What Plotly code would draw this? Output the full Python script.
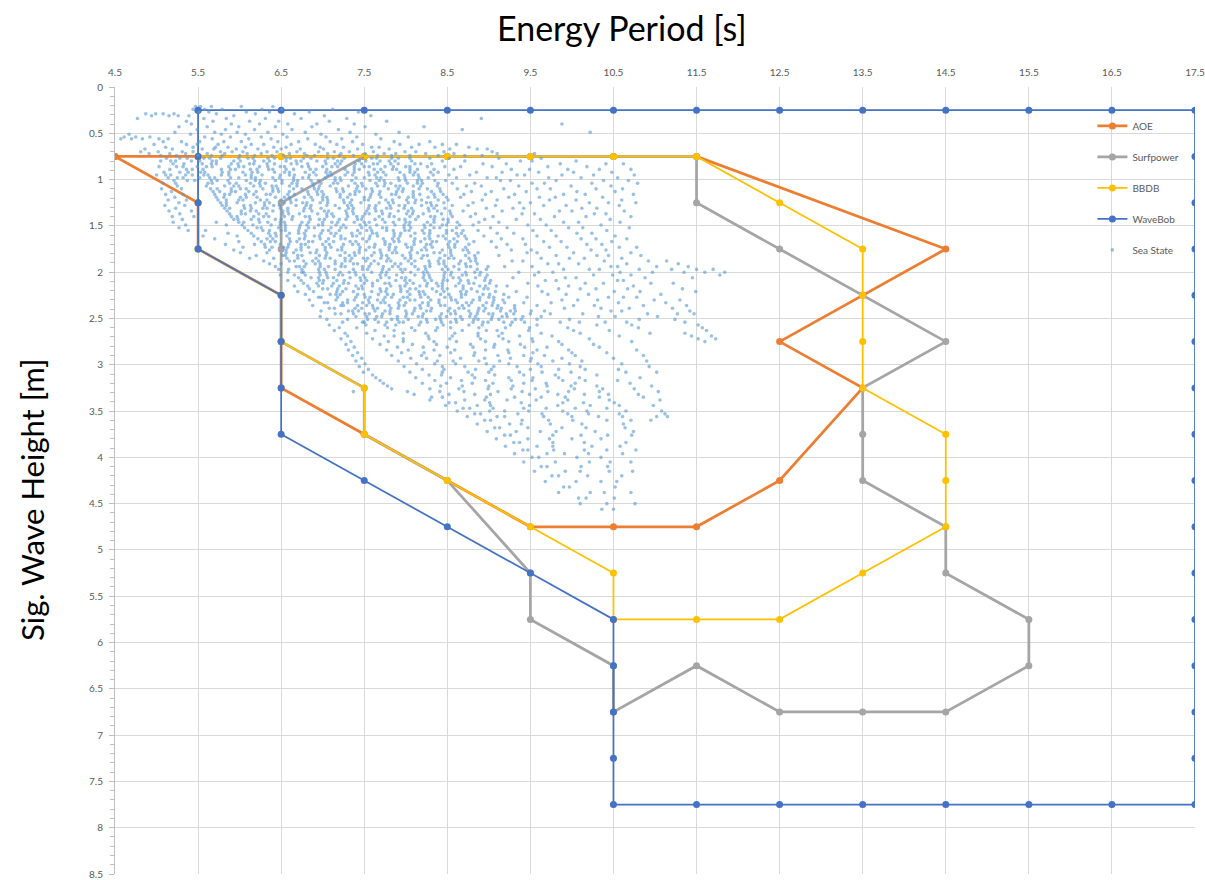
import plotly.graph_objects as go

# ---------------- Data ----------------
x_ticks = [4.5, 5.5, 6.5, 7.5, 8.5, 9.5, 10.5, 11.5, 12.5, 13.5, 14.5, 15.5, 16.5, 17.5]
y_ticks = [0, 0.5, 1, 1.5, 2, 2.5, 3, 3.5, 4, 4.5, 5, 5.5, 6, 6.5, 7, 7.5, 8, 8.5]

aoe_te = [4.5, 5.5, 5.5, 6.5, 6.5, 6.5, 7.5, 8.5, 9.5, 10.5, 11.5, 12.5, 13.5, 12.5, 13.5, 14.5,
          11.5, 10.5, 9.5, 8.5, 7.5, 6.5, 5.5, 4.5]
aoe_hs = [0.75, 1.25, 1.75, 2.25, 2.75, 3.25, 3.75, 4.25, 4.75, 4.75, 4.75, 4.25, 3.25, 2.75, 2.25, 1.75,
          0.75, 0.75, 0.75, 0.75, 0.75, 0.75, 0.75, 0.75]

surf_te = [7.5, 6.5, 6.5, 6.5, 6.5, 7.5, 7.5, 8.5, 9.5, 9.5, 10.5, 10.5, 11.5, 12.5, 13.5, 14.5, 15.5,
           15.5, 14.5, 14.5, 13.5, 13.5, 13.5, 14.5, 13.5, 12.5, 11.5, 11.5, 10.5, 9.5, 8.5, 7.5]
surf_hs = [0.75, 1.25, 1.75, 2.25, 2.75, 3.25, 3.75, 4.25, 5.25, 5.75, 6.25, 6.75, 6.25, 6.75, 6.75, 6.75, 6.25,
           5.75, 5.25, 4.75, 4.25, 3.75, 3.25, 2.75, 2.25, 1.75, 1.25, 0.75, 0.75, 0.75, 0.75, 0.75]

bbdb_te = [5.5, 6.5, 7.5, 8.5, 9.5, 10.5, 11.5, 12.5, 13.5, 13.5, 13.5, 13.5, 14.5, 14.5, 14.5, 13.5,
           12.5, 11.5, 10.5, 10.5, 9.5, 8.5, 7.5, 7.5, 6.5, 6.5, 5.5, 5.5, 5.5]
bbdb_hs = [0.75, 0.75, 0.75, 0.75, 0.75, 0.75, 0.75, 1.25, 1.75, 2.25, 2.75, 3.25, 3.75, 4.25, 4.75, 5.25,
           5.75, 5.75, 5.75, 5.25, 4.75, 4.25, 3.75, 3.25, 2.75, 2.25, 1.75, 1.25, 0.75]

wavebob_te = [5.5, 6.5, 7.5, 8.5, 9.5, 10.5, 11.5, 12.5, 13.5, 14.5, 15.5, 16.5, 17.5,
              17.5, 17.5, 17.5, 17.5, 17.5, 17.5, 17.5, 17.5, 17.5, 17.5, 17.5, 17.5, 17.5, 17.5, 17.5,
              16.5, 15.5, 14.5, 13.5, 12.5, 11.5, 10.5,
              10.5, 10.5, 10.5, 10.5, 9.5, 8.5, 7.5, 6.5, 6.5, 6.5, 6.5, 5.5, 5.5, 5.5, 5.5]
wavebob_hs = [0.25, 0.25, 0.25, 0.25, 0.25, 0.25, 0.25, 0.25, 0.25, 0.25, 0.25, 0.25, 0.25,
              0.75, 1.25, 1.75, 2.25, 2.75, 3.25, 3.75, 4.25, 4.75, 5.25, 5.75, 6.25, 6.75, 7.25, 7.75,
              7.75, 7.75, 7.75, 7.75, 7.75, 7.75, 7.75,
              7.25, 6.75, 6.25, 5.75, 5.25, 4.75, 4.25, 3.75, 3.25, 2.75, 2.25, 1.75, 1.25, 0.75, 0.25]

# Sea states: (Hs, [Te values in that Hs row])
sea_state_rows = [
    (0.21, [5.47, 5.53, 5.66, 6.02, 6.4]),
    (0.24, [5.44, 5.58, 5.79, 6.27, 6.51, 7.12]),
    (0.27, [5.51, 5.63, 6.08, 6.36, 6.84, 7.43]),
    (0.29, [4.87, 4.99, 5.08, 5.21, 5.72, 6.19, 6.66]),
    (0.31, [4.94, 5.15, 5.26, 5.39, 5.93, 7.02, 7.58]),
    (0.34, [4.77, 5.57, 5.84, 6.31, 6.74, 7.29, 8.91]),
    (0.37, [5.36, 5.68, 6.12, 6.47, 7.08, 7.77]),
    (0.40, [5.42, 5.9, 6.24, 6.58, 6.93, 7.38, 9.88]),
    (0.43, [5.27, 5.61, 5.99, 6.43, 6.87, 7.51, 8.22]),
    (0.46, [5.49, 5.83, 6.18, 6.63, 7.19, 8.68]),
    (0.49, [5.22, 5.7, 5.97, 6.34, 6.79, 7.33, 7.92, 10.22]),
    (0.51, [4.67, 5.41, 5.78, 6.07, 6.52, 6.98, 7.64]),
    (0.54, [4.61, 4.75, 4.92, 5.58, 5.89, 6.26, 6.57, 7.04, 7.41, 8.03]),
    (0.56, [4.57, 4.7, 4.83, 5.03, 5.14, 5.67, 6.11, 6.38, 6.82, 7.23, 7.7]),
    (0.59, [5.08, 5.3, 5.52, 5.81, 6.02, 6.46, 6.71, 7.09, 7.36, 7.86, 8.29]),
    (0.62, [4.97, 5.36, 5.49, 5.74, 6.14, 6.29, 6.62, 6.91, 7.17, 7.48, 7.93, 8.16, 8.44, 8.61]),
    (0.65, [5.11, 5.44, 5.71, 5.86, 6.07, 6.41, 6.56, 6.97, 7.25, 7.59, 7.68, 8.07, 8.35, 8.76]),
    (0.67, [4.86, 5.19, 5.55, 5.69, 5.96, 6.22, 6.5, 6.73, 7.01, 7.42, 7.8, 8.53, 8.86, 8.98]),
    (0.70, [4.81, 5.02, 5.31, 5.44, 5.77, 5.91, 6.04, 6.33, 6.45, 6.69, 6.95, 7.14, 7.32, 7.61, 7.99, 8.12,
            8.46, 9.04]),
    (0.72, [4.91, 5.16, 5.35, 5.61, 5.82, 6.09, 6.26, 6.6, 6.78, 7.06, 7.22, 7.51, 7.74, 7.88, 8.24, 8.58,
            9.1, 9.55]),
    (0.74, [5.05, 5.24, 5.5, 5.66, 5.79, 6.0, 6.18, 6.39, 6.53, 6.81, 6.9, 7.2, 7.37, 7.66, 7.83, 8.05,
            8.39, 8.71, 8.92]),
    (0.77, [5.12, 5.28, 5.37, 5.57, 5.64, 5.77, 5.99, 6.1, 6.16, 6.34, 6.42, 6.56, 6.61, 6.77, 6.86, 7.06,
            7.13, 7.26, 7.48, 7.59, 7.65, 7.83, 7.91, 8.05, 8.29, 8.52, 9.12, 9.63]),
    (0.80, [5.05, 5.17, 5.23, 5.42, 5.52, 5.67, 5.72, 5.93, 6.01, 6.18, 6.29, 6.36, 6.56, 6.68, 6.74, 6.93,
            7.03, 7.18, 7.23, 7.44, 7.52, 7.69, 7.8, 7.87, 8.07, 8.44, 8.71, 9.38, 9.52, 10.05]),
    (0.83, [5.2, 5.33, 5.55, 5.66, 5.72, 5.9, 5.98, 6.12, 6.17, 6.33, 6.42, 6.62, 6.69, 6.82, 7.04, 7.15,
            7.21, 7.39, 7.47, 7.61, 7.66, 7.82, 7.91, 8.11, 8.18, 8.31, 8.93, 9.21, 9.86, 10.41, 10.62]),
    (0.86, [5.03, 5.24, 5.32, 5.49, 5.6, 5.67, 5.87, 5.99, 6.05, 6.24, 6.34, 6.49, 6.54, 6.75, 6.83, 7.0,
            7.11, 7.18, 7.38, 7.5, 7.56, 7.75, 7.85, 8.0, 8.05, 8.26, 8.47, 8.66, 9.04, 9.71, 10.18]),
    (0.89, [5.16, 5.36, 5.43, 5.56, 5.78, 5.89, 5.95, 6.13, 6.21, 6.35, 6.4, 6.56, 6.65, 6.85, 6.92, 7.05,
            7.27, 7.38, 7.44, 7.62, 7.7, 7.84, 7.89, 8.05, 8.14, 8.34, 8.58, 9.27, 9.49, 9.95, 10.33, 10.71]),
    (0.92, [5.09, 5.28, 5.38, 5.53, 5.58, 5.79, 5.87, 6.04, 6.15, 6.22, 6.42, 6.54, 6.6, 6.79, 6.89, 7.04,
            7.09, 7.3, 7.38, 7.55, 7.66, 7.73, 7.93, 8.05, 8.11, 8.3, 8.39, 8.85, 9.16, 9.6, 10.02, 10.48]),
    (0.95, [5.0, 5.11, 5.17, 5.35, 5.43, 5.57, 5.62, 5.78, 5.87, 6.07, 6.14, 6.27, 6.49, 6.6, 6.66, 6.84,
            6.92, 7.06, 7.11, 7.27, 7.36, 7.56, 7.63, 7.76, 7.98, 8.09, 8.15, 8.33, 8.52, 8.77, 9.34, 9.43,
            9.88, 10.26, 10.75]),
    (0.98, [5.14, 5.25, 5.32, 5.52, 5.64, 5.7, 5.89, 5.99, 6.14, 6.19, 6.4, 6.48, 6.65, 6.76, 6.83, 7.03,
            7.15, 7.21, 7.4, 7.5, 7.65, 7.7, 7.91, 7.99, 8.16, 8.27, 8.61, 8.98, 9.09, 9.72, 10.11, 10.55]),
    (1.01, [5.21, 5.37, 5.46, 5.66, 5.73, 5.86, 6.08, 6.19, 6.25, 6.43, 6.51, 6.65, 6.7, 6.86, 6.95, 7.15,
            7.22, 7.35, 7.57, 7.68, 7.74, 7.92, 8.0, 8.14, 8.19, 8.35, 8.48, 9.14, 9.26, 9.81, 10.38, 10.68]),
    (1.04, [5.08, 5.23, 5.62, 5.67, 5.88, 5.96, 6.13, 6.24, 6.31, 6.51, 6.63, 6.69, 6.88, 6.98, 7.13, 7.18,
            7.39, 7.47, 7.64, 7.75, 7.82, 8.02, 8.14, 8.2, 8.39, 8.56, 8.83, 9.52, 9.67, 10.24, 10.79]),
    (1.07, [5.25, 5.6, 5.82, 5.93, 5.99, 6.17, 6.25, 6.39, 6.44, 6.6, 6.69, 6.89, 6.96, 7.09, 7.31, 7.42,
            7.48, 7.66, 7.74, 7.88, 7.93, 8.09, 8.18, 8.38, 8.73, 8.91, 9.36, 9.99, 10.47]),
    (1.10, [5.06, 5.3, 5.65, 5.73, 5.9, 6.01, 6.08, 6.28, 6.4, 6.46, 6.65, 6.75, 6.9, 6.95, 7.16, 7.24,
            7.41, 7.52, 7.59, 7.79, 7.91, 7.97, 8.16, 8.26, 8.41, 8.62, 9.18, 9.58, 9.74, 10.29, 10.61]),
    (1.13, [5.18, 5.68, 5.76, 5.9, 5.95, 6.11, 6.2, 6.4, 6.47, 6.6, 6.82, 6.93, 6.99, 7.17, 7.25, 7.39,
            7.44, 7.6, 7.69, 7.89, 7.96, 8.09, 8.31, 8.42, 8.79, 9.03, 9.45, 10.06, 10.52]),
    (1.16, [5.11, 5.32, 5.7, 5.82, 5.88, 6.07, 6.17, 6.32, 6.37, 6.58, 6.66, 6.83, 6.94, 7.01, 7.21, 7.33,
            7.39, 7.58, 7.68, 7.83, 7.88, 8.09, 8.17, 8.34, 8.45, 8.7, 8.96, 9.31, 9.9, 10.16, 10.74]),
    (1.19, [5.22, 5.72, 5.81, 6.01, 6.08, 6.21, 6.43, 6.54, 6.6, 6.78, 6.86, 7.0, 7.05, 7.21, 7.3, 7.5,
            7.57, 7.7, 7.92, 8.03, 8.09, 8.27, 8.35, 8.49, 8.66, 9.24, 9.61, 9.8, 10.37]),
    (1.22, [5.14, 5.36, 5.74, 5.84, 5.99, 6.04, 6.25, 6.33, 6.5, 6.61, 6.68, 6.88, 7.0, 7.06, 7.25, 7.35,
            7.5, 7.55, 7.76, 7.84, 8.01, 8.12, 8.19, 8.39, 8.51, 8.92, 9.1, 9.73, 10.05, 10.6]),
    (1.25, [5.27, 5.77, 5.84, 5.97, 6.19, 6.3, 6.36, 6.54, 6.62, 6.76, 6.81, 6.97, 7.06, 7.26, 7.33, 7.46,
            7.68, 7.79, 7.85, 8.03, 8.11, 8.25, 8.3, 8.46, 8.81, 9.37, 9.5, 10.21, 10.44, 10.77]),
    (1.28, [5.1, 5.34, 5.79, 5.84, 6.05, 6.13, 6.3, 6.41, 6.48, 6.68, 6.8, 6.86, 7.05, 7.15, 7.3, 7.35,
            7.56, 7.64, 7.81, 7.92, 7.99, 8.19, 8.31, 8.37, 8.56, 8.75, 9.08, 9.66, 9.93, 10.57]),
    (1.31, [5.23, 5.82, 5.88, 6.06, 6.14, 6.28, 6.33, 6.49, 6.58, 6.78, 6.85, 6.98, 7.2, 7.31, 7.37, 7.55,
            7.63, 7.77, 7.82, 7.98, 8.07, 8.27, 8.34, 8.47, 8.97, 9.29, 9.42, 10.12, 10.3]),
    (1.34, [5.15, 5.42, 5.85, 6.02, 6.13, 6.2, 6.4, 6.52, 6.58, 6.77, 6.87, 7.02, 7.07, 7.28, 7.36, 7.53,
            7.64, 7.71, 7.91, 8.03, 8.09, 8.28, 8.38, 8.53, 8.69, 9.16, 9.85, 10.0, 10.63]),
    (1.37, [5.28, 5.88, 6.02, 6.07, 6.23, 6.32, 6.52, 6.59, 6.72, 6.94, 7.05, 7.11, 7.29, 7.37, 7.51, 7.56,
            7.72, 7.81, 8.01, 8.08, 8.21, 8.43, 8.54, 8.84, 9.4, 9.55, 10.27, 10.41]),
    (1.40, [5.19, 5.45, 5.9, 5.97, 6.17, 6.29, 6.35, 6.54, 6.64, 6.79, 6.84, 7.05, 7.13, 7.3, 7.41, 7.48,
            7.68, 7.8, 7.86, 8.05, 8.15, 8.3, 8.35, 8.56, 8.78, 9.05, 9.79, 10.17, 10.71]),
    (1.43, [5.31, 5.93, 5.98, 6.14, 6.23, 6.43, 6.5, 6.63, 6.85, 6.96, 7.02, 7.2, 7.28, 7.42, 7.47, 7.63,
            7.72, 7.92, 7.99, 8.12, 8.34, 8.45, 8.51, 8.95, 9.33, 9.62, 10.46]),
    (1.46, [5.2, 5.72, 5.99, 6.05, 6.24, 6.34, 6.49, 6.54, 6.75, 6.83, 7.0, 7.11, 7.18, 7.38, 7.5, 7.56,
            7.75, 7.85, 8.0, 8.05, 8.26, 8.34, 8.51, 8.62, 8.88, 9.12, 9.9, 10.08, 10.58]),
    (1.49, [5.35, 5.84, 6.03, 6.16, 6.38, 6.49, 6.55, 6.73, 6.81, 6.95, 7.0, 7.16, 7.25, 7.45, 7.52, 7.65,
            7.87, 7.98, 8.04, 8.22, 8.3, 8.44, 8.49, 8.65, 8.81, 9.47, 9.69, 10.35]),
    (1.52, [5.27, 6.06, 6.21, 6.26, 6.47, 6.55, 6.72, 6.83, 6.9, 7.1, 7.22, 7.28, 7.47, 7.57, 7.72, 7.77,
            7.98, 8.06, 8.23, 8.34, 8.41, 8.61, 9.02, 9.22, 9.96, 10.13, 10.69]),
    (1.55, [5.38, 5.59, 6.1, 6.28, 6.36, 6.5, 6.55, 6.71, 6.8, 7.0, 7.07, 7.2, 7.42, 7.53, 7.59, 7.77,
            7.85, 7.99, 8.04, 8.2, 8.29, 8.49, 8.56, 8.69, 8.87, 9.53, 9.75, 10.42]),
    (1.58, [5.86, 6.14, 6.35, 6.43, 6.6, 6.71, 6.78, 6.98, 7.1, 7.16, 7.35, 7.45, 7.6, 7.65, 7.86, 7.94,
            8.11, 8.22, 8.29, 8.49, 8.61, 8.67, 9.1, 9.3, 10.06, 10.24]),
    (1.61, [5.56, 5.97, 6.17, 6.37, 6.44, 6.57, 6.79, 6.9, 6.96, 7.14, 7.22, 7.36, 7.41, 7.57, 7.66, 7.86,
            7.93, 8.06, 8.28, 8.39, 8.45, 8.63, 8.71, 8.94, 9.58, 9.81, 10.52]),
    (1.64, [5.7, 6.22, 6.33, 6.4, 6.6, 6.72, 6.78, 6.97, 7.07, 7.22, 7.27, 7.48, 7.56, 7.73, 7.84, 7.91,
            8.11, 8.23, 8.29, 8.48, 8.58, 8.73, 9.15, 9.41, 10.11, 10.29, 10.66]),
    (1.67, [5.99, 6.26, 6.37, 6.43, 6.61, 6.69, 6.83, 6.88, 7.04, 7.13, 7.33, 7.4, 7.53, 7.75, 7.86, 7.92,
            8.1, 8.18, 8.32, 8.37, 8.53, 8.62, 8.82, 9.03, 9.66, 9.87, 10.48]),
    (1.70, [5.83, 6.18, 6.3, 6.49, 6.59, 6.74, 6.79, 7.0, 7.08, 7.25, 7.36, 7.43, 7.63, 7.75, 7.81, 8.0,
            8.1, 8.25, 8.3, 8.51, 8.59, 8.76, 9.22, 9.44, 10.18, 10.36]),
    (1.73, [6.04, 6.31, 6.39, 6.53, 6.58, 6.74, 6.83, 7.03, 7.1, 7.23, 7.45, 7.56, 7.62, 7.8, 7.88, 8.02,
            8.07, 8.23, 8.32, 8.52, 8.59, 8.72, 9.09, 9.73, 9.94, 10.57, 10.78]),
    (1.76, [5.93, 6.36, 6.56, 6.68, 6.74, 6.93, 7.03, 7.18, 7.23, 7.44, 7.52, 7.69, 7.8, 7.87, 8.07, 8.19,
            8.25, 8.44, 8.54, 8.69, 8.74, 9.27, 9.51, 10.23, 10.41]),
    (1.79, [6.01, 6.33, 6.56, 6.65, 6.85, 6.92, 7.05, 7.27, 7.38, 7.44, 7.62, 7.7, 7.84, 7.89, 8.05, 8.14,
            8.34, 8.41, 8.54, 8.76, 8.87, 9.46, 9.58, 10.02, 10.71]),
    (1.82, [6.2, 6.52, 6.55, 6.7, 6.75, 6.96, 7.04, 7.21, 7.32, 7.39, 7.59, 7.71, 7.77, 7.96, 8.06, 8.21,
            8.26, 8.47, 8.55, 8.72, 8.83, 9.12, 9.81, 10.3, 10.44, 10.83]),
    (1.85, [6.12, 6.41, 6.57, 6.7, 6.92, 7.03, 7.09, 7.27, 7.35, 7.49, 7.54, 7.7, 7.79, 7.99, 8.06, 8.19,
            8.41, 8.52, 8.58, 8.76, 8.84, 9.63, 9.97, 10.15, 10.6]),
    (1.88, [6.29, 6.6, 6.66, 6.77, 6.88, 6.95, 7.15, 7.27, 7.33, 7.52, 7.62, 7.77, 7.82, 8.03, 8.11, 8.28,
            8.39, 8.46, 8.66, 8.78, 8.84, 9.28, 9.41, 10.39, 10.92, 11.14]),
    (1.91, [6.36, 6.5, 6.8, 6.91, 6.97, 7.15, 7.23, 7.37, 7.42, 7.58, 7.67, 7.87, 7.94, 8.07, 8.29, 8.4,
            8.46, 8.64, 8.72, 8.86, 9.71, 9.84, 10.08, 10.66, 11.28]),
    (1.94, [6.43, 6.68, 6.72, 6.78, 6.97, 7.07, 7.22, 7.27, 7.48, 7.56, 7.73, 7.84, 7.91, 8.11, 8.23, 8.29,
            8.48, 8.58, 8.73, 8.78, 8.99, 9.19, 9.52, 10.47, 10.55, 11.02, 11.4]),
    (1.97, [6.47, 6.59, 6.75, 6.95, 7.02, 7.15, 7.37, 7.48, 7.54, 7.72, 7.8, 7.94, 7.99, 8.15, 8.24, 8.44,
            8.51, 8.64, 8.86, 8.97, 9.9, 10.21, 10.33, 10.81, 11.2, 11.5, 11.7]),
    (2.00, [6.58, 6.77, 6.75, 6.96, 7.04, 7.21, 7.32, 7.39, 7.59, 7.71, 7.77, 7.96, 8.06, 8.21, 8.26, 8.47,
            8.55, 8.72, 8.83, 8.9, 9.36, 9.6, 9.77, 10.58, 10.97, 11.35, 11.6, 11.84]),
    (2.03, [6.49, 6.66, 6.79, 6.97, 7.05, 7.19, 7.24, 7.4, 7.49, 7.69, 7.76, 7.89, 8.11, 8.22, 8.28, 8.46,
            8.54, 8.68, 8.73, 8.89, 8.98, 9.55, 10.26, 10.49, 10.71, 11.78]),
    (2.06, [6.71, 6.86, 6.95, 7.06, 7.13, 7.33, 7.45, 7.51, 7.7, 7.8, 7.95, 8.0, 8.21, 8.29, 8.46, 8.57,
            8.64, 8.84, 8.96, 9.29, 9.92, 10.05, 10.88, 11.45]),
    (2.09, [6.58, 6.74, 6.96, 7.01, 7.17, 7.26, 7.46, 7.53, 7.66, 7.88, 7.99, 8.05, 8.23, 8.31, 8.45, 8.5,
            8.66, 8.75, 8.95, 9.02, 9.68, 9.81, 10.55, 10.62]),
    (2.12, [6.77, 6.93, 7.0, 7.13, 7.25, 7.31, 7.5, 7.6, 7.75, 7.8, 8.01, 8.09, 8.26, 8.37, 8.44, 8.64,
            8.76, 8.82, 9.01, 9.47, 10.16, 10.38, 10.95, 11.22]),
    (2.15, [6.66, 6.82, 6.95, 7.11, 7.2, 7.4, 7.47, 7.6, 7.82, 7.93, 7.99, 8.17, 8.25, 8.39, 8.44, 8.6,
            8.69, 8.89, 8.96, 9.09, 9.22, 9.59, 9.96, 10.74]),
    (2.18, [6.84, 7.0, 7.06, 7.18, 7.28, 7.43, 7.48, 7.69, 7.77, 7.94, 8.05, 8.12, 8.32, 8.44, 8.5, 8.69,
            8.79, 8.94, 8.99, 9.84, 10.1, 10.29, 10.67, 11.33]),
    (2.21, [6.7, 6.89, 7.17, 7.24, 7.37, 7.59, 7.7, 7.76, 7.94, 8.02, 8.16, 8.21, 8.37, 8.46, 8.66, 8.73,
            8.86, 9.08, 9.33, 9.64, 10.51, 10.82, 11.49]),
    (2.24, [6.79, 7.09, 7.16, 7.21, 7.42, 7.5, 7.67, 7.78, 7.85, 8.05, 8.17, 8.23, 8.42, 8.52, 8.67, 8.72,
            8.93, 9.01, 9.18, 9.71, 9.93, 10.2, 11.07]),
    (2.27, [6.95, 6.98, 7.18, 7.4, 7.51, 7.57, 7.75, 7.83, 7.97, 8.02, 8.18, 8.27, 8.47, 8.54, 8.67, 8.89,
            9.0, 9.06, 9.24, 9.46, 10.44, 10.62, 10.78]),
    (2.30, [6.84, 7.16, 7.3, 7.38, 7.55, 7.66, 7.73, 7.93, 8.05, 8.11, 8.3, 8.4, 8.55, 8.6, 8.81, 8.89,
            9.06, 9.17, 9.88, 10.07, 10.31, 10.99, 11.3]),
    (2.33, [7.02, 7.06, 7.24, 7.3, 7.48, 7.56, 7.7, 7.75, 7.91, 8.0, 8.2, 8.27, 8.4, 8.62, 8.73, 8.79,
            8.97, 9.05, 9.19, 9.42, 9.75, 10.56, 11.13]),
    (2.36, [6.88, 7.22, 7.25, 7.42, 7.53, 7.6, 7.8, 7.92, 7.98, 8.17, 8.27, 8.42, 8.47, 8.68, 8.76, 8.93,
            9.04, 9.11, 9.31, 9.58, 10.02, 10.27, 10.86, 11.38]),
    (2.39, [7.08, 7.14, 7.39, 7.47, 7.61, 7.66, 7.82, 7.91, 8.11, 8.18, 8.31, 8.53, 8.64, 8.7, 8.88, 8.96,
            9.1, 9.15, 9.31, 9.91, 10.35, 10.69, 11.21]),
    (2.42, [6.98, 7.31, 7.36, 7.43, 7.63, 7.75, 7.81, 8.0, 8.1, 8.25, 8.3, 8.51, 8.59, 8.76, 8.87, 8.94,
            9.14, 9.26, 9.32, 9.51, 9.67, 10.47, 10.6, 11.42]),
    (2.45, [7.15, 7.22, 7.37, 7.51, 7.56, 7.72, 7.81, 8.01, 8.08, 8.21, 8.43, 8.54, 8.6, 8.78, 8.86, 9.0,
            9.05, 9.21, 9.3, 9.5, 9.74, 10.13, 10.91, 11.27, 11.47]),
    (2.48, [6.97, 7.4, 7.53, 7.65, 7.71, 7.9, 8.0, 8.15, 8.2, 8.41, 8.49, 8.66, 8.77, 8.84, 9.04, 9.16,
            9.22, 9.41, 9.63, 10.32, 10.52, 11.03]),
    (2.51, [7.05, 7.3, 7.54, 7.63, 7.83, 7.9, 8.03, 8.25, 8.36, 8.42, 8.6, 8.68, 8.82, 8.87, 9.03, 9.12,
            9.32, 9.39, 9.58, 9.97, 10.81, 11.24]),
    (2.54, [7.24, 7.5, 7.48, 7.67, 7.77, 7.92, 7.97, 8.18, 8.26, 8.43, 8.54, 8.61, 8.81, 8.93, 8.99, 9.18,
            9.28, 9.43, 9.86, 10.09, 10.4, 10.66, 11.36]),
    (2.57, [7.08, 7.52, 7.75, 7.88, 8.16, 8.45, 8.76, 8.92, 9.26, 9.58, 10.3, 10.72, 11.52]),
    (2.60, [7.2, 7.41, 7.78, 8.07, 8.38, 8.54, 8.88, 9.2, 9.49, 9.95, 10.8, 11.57]),
    (2.63, [7.14, 7.63, 7.86, 8.11, 8.36, 8.68, 8.97, 9.1, 9.48, 10.02, 10.45, 11.62]),
    (2.66, [7.27, 7.53, 7.97, 8.24, 8.59, 8.87, 9.16, 9.63, 10.1, 10.94, 11.36]),
    (2.69, [7.3, 7.74, 7.86, 8.27, 8.56, 8.87, 9.12, 9.37, 9.76, 10.57, 11.44, 11.68]),
    (2.72, [7.22, 7.6, 7.97, 8.28, 8.53, 8.9, 9.17, 9.52, 10.21, 11.52, 11.73]),
    (2.75, [7.34, 7.79, 7.97, 8.34, 8.61, 8.96, 9.24, 9.53, 9.84, 10.72, 11.6]),
    (2.78, [7.28, 7.69, 8.08, 8.37, 8.78, 9.07, 9.38, 9.88, 10.26]),
    (2.81, [7.38, 7.9, 8.21, 8.5, 8.81, 9.06, 9.43, 9.7, 10.33]),
    (2.84, [7.31, 7.77, 8.03, 8.34, 8.59, 8.96, 9.23, 9.58, 9.96, 10.78]),
    (2.87, [7.42, 7.95, 8.22, 8.54, 8.83, 9.24, 9.53, 10.0, 10.42]),
    (2.90, [7.36, 7.83, 8.19, 8.41, 8.82, 9.11, 9.42, 9.67, 10.04, 10.86]),
    (2.93, [7.47, 8.06, 8.25, 8.66, 8.95, 9.26, 9.51, 9.88, 10.5]),
    (2.96, [7.4, 7.91, 8.38, 8.57, 8.88, 9.13, 9.5, 9.77, 10.12, 10.9]),
    (2.99, [7.51, 8.13, 8.35, 8.6, 8.97, 9.24, 9.59, 9.97, 10.6]),
    (3.02, [7.44, 7.98, 8.44, 8.71, 9.06, 9.34, 9.63, 10.1, 10.93]),
    (3.05, [7.55, 8.2, 8.46, 8.84, 9.03, 9.5, 9.84, 10.16, 10.56]),
    (3.08, [7.49, 8.05, 8.44, 8.75, 9.0, 9.37, 9.64, 9.99, 10.65, 11.02]),
    (3.11, [7.6, 8.28, 8.43, 8.8, 9.07, 9.42, 9.8, 10.3]),
    (3.14, [7.64, 8.12, 8.54, 8.83, 9.24, 9.53, 9.84, 10.09, 10.82]),
    (3.17, [7.69, 8.35, 8.67, 8.96, 9.27, 9.52, 9.89, 10.16, 10.55]),
    (3.20, [7.73, 8.2, 8.49, 8.8, 9.05, 9.42, 9.69, 10.04, 10.7]),
    (3.23, [7.78, 8.42, 8.68, 9.0, 9.29, 9.7, 9.99, 10.3, 10.96]),
    (3.26, [7.83, 8.29, 8.64, 8.99, 9.27, 9.56, 10.03, 10.37, 10.75]),
    (3.29, [7.37, 8.02, 8.41, 8.7, 9.11, 9.4, 9.71, 9.96, 10.33, 11.04]),
    (3.32, [8.1, 8.52, 8.83, 9.02, 9.49, 9.83, 10.15, 10.44, 10.8]),
    (3.35, [8.31, 8.44, 8.97, 9.31, 9.63, 9.92, 10.33, 10.86]),
    (3.38, [8.29, 8.71, 8.95, 9.22, 9.57, 9.95, 10.45, 11.06]),
    (3.41, [8.52, 8.6, 9.01, 9.39, 9.89, 10.14, 10.51]),
    (3.44, [8.48, 8.86, 9.02, 9.49, 9.83, 10.22, 10.57, 10.98]),
    (3.47, [8.69, 8.77, 9.05, 9.42, 9.69, 10.04, 10.42]),
    (3.50, [8.62, 9.01, 9.19, 9.48, 9.89, 10.18, 10.65, 11.08]),
    (3.53, [8.83, 8.9, 9.35, 9.64, 9.95, 10.2, 10.57, 11.12]),
    (3.56, [8.74, 9.1, 9.19, 9.66, 10.0, 10.32, 10.61, 11.02, 11.15]),
    (3.60, [8.95, 9.02, 9.4, 9.72, 10.01, 10.42, 10.71, 10.95]),
    (3.64, [8.86, 9.25, 9.39, 9.74, 10.12, 10.62]),
    (3.68, [9.07, 9.13, 9.47, 9.88, 10.17, 10.64]),
    (3.72, [8.98, 9.33, 9.62, 9.81, 10.28, 10.74]),
    (3.76, [9.19, 9.26, 9.77, 10.11, 10.43, 10.72]),
    (3.80, [9.09, 9.47, 9.73, 10.0, 10.35]),
    (3.84, [9.3, 9.37, 9.77, 10.15, 10.65]),
    (3.88, [9.2, 9.58, 9.77, 10.24, 10.58]),
    (3.92, [9.41, 9.47, 9.78, 10.15, 10.42, 10.77]),
    (3.96, [9.31, 9.7, 9.91, 10.2, 10.61]),
    (4.00, [9.52, 9.6, 10.06, 10.35]),
    (4.05, [9.42, 9.8, 10.21, 10.46, 10.71]),
    (4.10, [9.63, 9.7, 10.11, 10.43]),
    (4.15, [9.55, 9.92, 10.1, 10.45, 10.73]),
    (4.20, [9.76, 9.84, 10.19, 10.6]),
    (4.26, [9.68, 10.05, 10.35, 10.54]),
    (4.32, [9.9, 9.97, 10.52]),
    (4.38, [9.84, 10.22, 10.39, 10.71]),
    (4.44, [10.08, 10.17, 10.51]),
    (4.50, [10.1, 10.42, 10.76]),
    (4.56, [10.36, 10.5]),
]

sea_te = [te for hs, tes in sea_state_rows for te in tes]
sea_hs = [hs for hs, tes in sea_state_rows for te in tes]

# ---------------- Figure ----------------
FONT = "Lato"
TICK_COLOR = "#595959"
GRID = "#D9D9D9"

fig = go.Figure()

fig.add_trace(go.Scatter(x=aoe_te, y=aoe_hs, mode="lines+markers", name="AOE",
                         legendgroup="a",
                         line=dict(color="#ED7D31", width=2.75),
                         marker=dict(color="#ED7D31", size=7)))
fig.add_trace(go.Scatter(x=surf_te, y=surf_hs, mode="lines+markers", name="Surfpower",
                         legendgroup="b",
                         line=dict(color="#A5A5A5", width=2.75),
                         marker=dict(color="#A5A5A5", size=7)))
fig.add_trace(go.Scatter(x=bbdb_te, y=bbdb_hs, mode="lines+markers", name="BBDB",
                         legendgroup="c",
                         line=dict(color="#FFC000", width=1.75),
                         marker=dict(color="#FFC000", size=7)))
fig.add_trace(go.Scatter(x=wavebob_te, y=wavebob_hs, mode="lines+markers", name="WaveBob",
                         legendgroup="d",
                         line=dict(color="#4472C4", width=1.75),
                         marker=dict(color="#4472C4", size=7)))
fig.add_trace(go.Scatter(x=sea_te, y=sea_hs, mode="markers", name="Sea State",
                         legendgroup="e",
                         marker=dict(color="#5B9BD5", size=3.6, opacity=0.62, line=dict(width=0))))

fig.update_layout(
    width=1205, height=880,
    margin=dict(l=115, r=10, t=87, b=6, autoexpand=False),
    paper_bgcolor="white", plot_bgcolor="white",
    font=dict(family=FONT, color=TICK_COLOR, size=10),
    showlegend=True,
    legend=dict(x=0.905, y=0.969, xanchor="left", yanchor="top",
                bgcolor="rgba(0,0,0,0)", font=dict(size=10, color=TICK_COLOR),
                traceorder="grouped", tracegroupgap=12, itemwidth=30),
    annotations=[
        dict(text="Energy Period [s]", xref="paper", yref="paper",
             x=0.469, y=1.075, xanchor="center", yanchor="middle", showarrow=False,
             font=dict(family=FONT, size=34, color="#000000")),
        dict(text="Sig. Wave Height [m]", xref="paper", yref="paper",
             x=-0.0769, y=0.4752, xanchor="center", yanchor="middle", showarrow=False,
             textangle=-90, font=dict(family=FONT, size=31, color="#000000")),
    ],
)

fig.update_xaxes(
    range=[4.5, 17.5], side="top", automargin=False,
    tickmode="array", tickvals=x_ticks, ticktext=[str(v) for v in x_ticks],
    showgrid=True, gridcolor=GRID, gridwidth=1,
    zeroline=False, showline=False,
    ticks="outside", ticklen=6, tickcolor="rgba(0,0,0,0)",
    tickfont=dict(size=10, color=TICK_COLOR),
    ticklabeloverflow="allow",
)
fig.update_yaxes(
    range=[8.5, 0], autorange=False, automargin=False,
    tickmode="array", tickvals=y_ticks, ticktext=[f"{v:g}" for v in y_ticks],
    showgrid=True, gridcolor=GRID, gridwidth=1,
    zeroline=False, showline=True, linecolor="#BFBFBF", linewidth=1,
    ticks="outside", ticklen=5, tickcolor="#BFBFBF",
    minor=dict(dtick=0.1, ticks="outside", ticklen=4, tickcolor="#BFBFBF", showgrid=False),
    tickfont=dict(size=10, color=TICK_COLOR),
    ticklabelstandoff=4,
    ticklabeloverflow="allow",
)

# Remove the browser's default 8px body margin so the 1205x880 figure fills the window exactly.
fig.write_html("out.html",
               config={"displayModeBar": False},
               post_script="document.body.style.margin='0';document.body.style.overflow='hidden';")
